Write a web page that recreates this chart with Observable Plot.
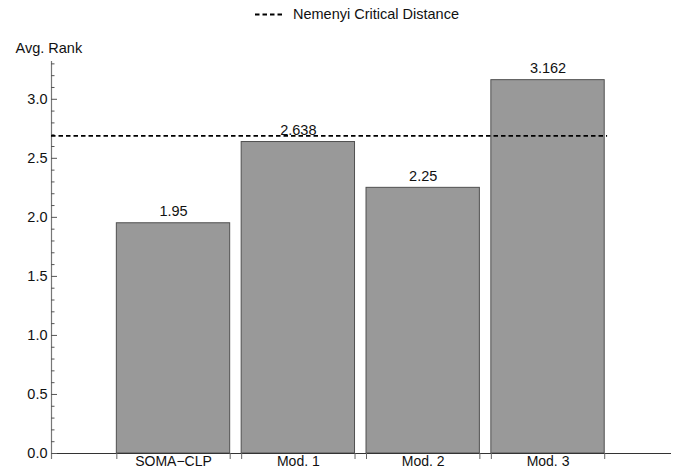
<!DOCTYPE html>
<html><head><meta charset="utf-8">
<script src="https://cdn.jsdelivr.net/npm/d3@7"></script>
<script src="https://cdn.jsdelivr.net/npm/@observablehq/plot@0.6"></script>
<style>
body{margin:0;background:#fff;font-family:"Liberation Sans",Arial,sans-serif;}
#legend{height:28px;width:675px;position:relative;font-size:14.5px;color:#111;}
#legend svg{position:absolute;left:254px;top:0;}
#legend span{position:absolute;left:293px;top:0;line-height:28px;white-space:nowrap;}
</style></head><body>
<div id="legend"><svg width="32" height="28"><line x1="1" x2="30" y1="14.5" y2="14.5" stroke="#000" stroke-width="1.8" stroke-dasharray="4.5,3"></line></svg><span>Nemenyi Critical Distance</span></div>
<div id="chart"></div>
<script>
const categories = ["SOMA\u2212CLP", "Mod. 1", "Mod. 2", "Mod. 3"];
const avgRank = [1.95, 2.638, 2.25, 3.162];
const criticalDistance = 2.69;
const yLabel = "Avg. Rank";
const legendLabel = "Nemenyi Critical Distance";
const majorTicks = [0, 0.5, 1.0, 1.5, 2.0, 2.5, 3.0];

const halfW = 0.454;
const xDomain = [0.0227, 4.989];
const yDomain = [0, 3.32];
const minorTicks = d3.range(1, 34).map(k => k / 10).filter(v => Math.abs(v * 2 - Math.round(v * 2)) > 1e-6);

const data = categories.map((c, i) => ({cat: c, pos: i + 1, rank: avgRank[i]}));
const edges = data.flatMap(d => [d.pos - halfW, d.pos + halfW]);
const font = 14.5;

const chart = Plot.plot({
  width: 675,
  height: 442,
  marginLeft: 51,
  marginRight: 4,
  marginTop: 33,
  marginBottom: 17,
  style: {fontFamily: "'Liberation Sans', Arial, sans-serif", fontSize: font + "px", color: "#111", background: "#fff", overflow: "visible"},
  x: {type: "linear", domain: xDomain, axis: null},
  y: {domain: yDomain, axis: null},
  marks: [
    Plot.rectY(data, {x1: d => d.pos - halfW, x2: d => d.pos + halfW, y: "rank", fill: "#999999", stroke: "#505050", strokeWidth: 1}),
    Plot.ruleY([0], {stroke: "#333", strokeWidth: 1.2}),
    Plot.ruleX([xDomain[0]], {stroke: "#777", strokeWidth: 1.2, insetBottom: -6}),
    Plot.axisX(edges, {tickSize: 6, tickFormat: () => "", label: null, stroke: "#666"}),
    Plot.axisX(data.map(d => d.pos), {tickSize: 0, tickPadding: 2.5, tickFormat: p => categories[p - 1], label: null, fontSize: 14, fill: "#111"}),
    Plot.axisY(majorTicks, {tickSize: -6, tickFormat: () => "", label: null, stroke: "#555"}),
    Plot.axisY(minorTicks, {tickSize: -3.5, tickFormat: () => "", label: null, stroke: "#555"}),
    Plot.axisY(majorTicks, {tickSize: 0, tickPadding: 4, tickFormat: d => d.toFixed(1), label: null, fontSize: font, fill: "#111"}),
    Plot.text([yLabel], {frameAnchor: "top-left", dx: -36, dy: -13, textAnchor: "start", lineAnchor: "middle", fontSize: font, fill: "#111"}),
    Plot.text(data, {x: "pos", y: "rank", text: d => String(d.rank), lineAnchor: "bottom", dy: -7, fontSize: font, fill: "#111"}),
    Plot.ruleY([criticalDistance], {x1: xDomain[0], x2: categories.length + halfW + 0.023, stroke: "#000", strokeWidth: 1.8, strokeDasharray: "4.5,3"})
  ]
});
document.getElementById("chart").appendChild(chart);
</script>
</body></html>
